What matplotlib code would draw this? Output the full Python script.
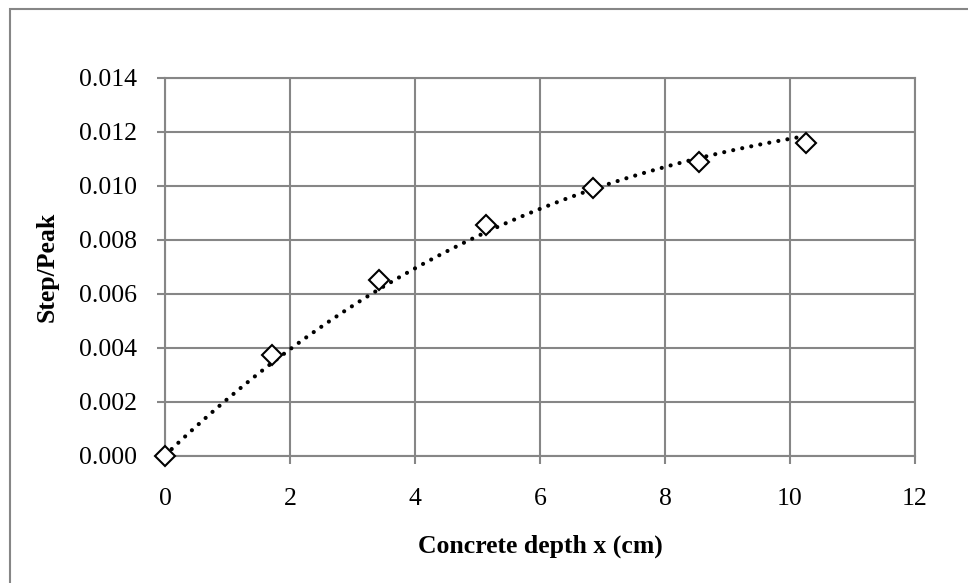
import numpy as np
import matplotlib
matplotlib.use("Agg")
import matplotlib.pyplot as plt
from matplotlib.patches import Rectangle

# measured series (markers)
depth_cm = [0.0, 1.71, 3.42, 5.13, 6.84, 8.55, 10.26]
step_peak = [0.0, 0.00374, 0.00652, 0.00855, 0.00993, 0.01090, 0.01160]
# trendline
trend_x = [0.0, 1.71, 2.0, 3.42, 4.0, 5.13, 6.84, 8.55, 10.0, 10.26]
trend_y = [0.00003, 0.00344, 0.00394, 0.00617, 0.00696, 0.00826, 0.00995, 0.01096, 0.01177, 0.01186]
x_ticks = [0, 2, 4, 6, 8, 10, 12]
y_ticks = [0.000, 0.002, 0.004, 0.006, 0.008, 0.010, 0.012, 0.014]
x_label = "Concrete depth x (cm)"
y_label = "Step/Peak"

plt.rcParams['font.family'] = ['Liberation Serif', 'DejaVu Serif']

W, H = 968, 583
fig = plt.figure(figsize=(W/100, H/100), dpi=100)
ax = fig.add_axes([165/W, (H-456)/H, 750/W, 378/H])

grid_c = '#868686'

# smooth trendline fitted to the read trend values
coef = np.polyfit(trend_x, trend_y, 3)
xs = np.linspace(min(trend_x), max(trend_x), 300)
ax.plot(xs, np.polyval(coef, xs), color='black', lw=3.0,
        linestyle=(0, (0.01, 2.2)), dash_capstyle='round', zorder=3)

ax.plot(depth_cm, step_peak, linestyle='none', marker='D', markersize=10,
        markerfacecolor='white', markeredgecolor='black', markeredgewidth=1.5,
        zorder=4, clip_on=False)

ax.set_xlim(0, 12)
ax.set_ylim(0, 0.014)
ax.set_xticks(x_ticks)
ax.set_yticks(y_ticks)
ax.set_xticklabels([str(v) for v in x_ticks])
ax.set_yticklabels([f"{v:.3f}" for v in y_ticks])
ax.grid(True, color=grid_c, lw=1.5)
ax.set_axisbelow(True)
for s in ax.spines.values():
    s.set_color(grid_c)
    s.set_linewidth(1.5)
ax.tick_params(axis='both', direction='out', length=6, width=1.5, color=grid_c,
               labelsize=18.5, labelcolor='black')
ax.tick_params(axis='x', pad=17)
ax.tick_params(axis='y', pad=14)

ax.set_xlabel(x_label, fontsize=18.5, fontweight='bold', labelpad=18)
ax.set_ylabel(y_label, fontsize=18.5, fontweight='bold', labelpad=15)

# outer chart border
fig.patches.append(Rectangle((10/W, -0.1), 1.2, (H-9)/H + 0.1, transform=fig.transFigure,
                             fill=False, edgecolor=grid_c, lw=1.5))

fig.savefig("out.png", dpi=100)
